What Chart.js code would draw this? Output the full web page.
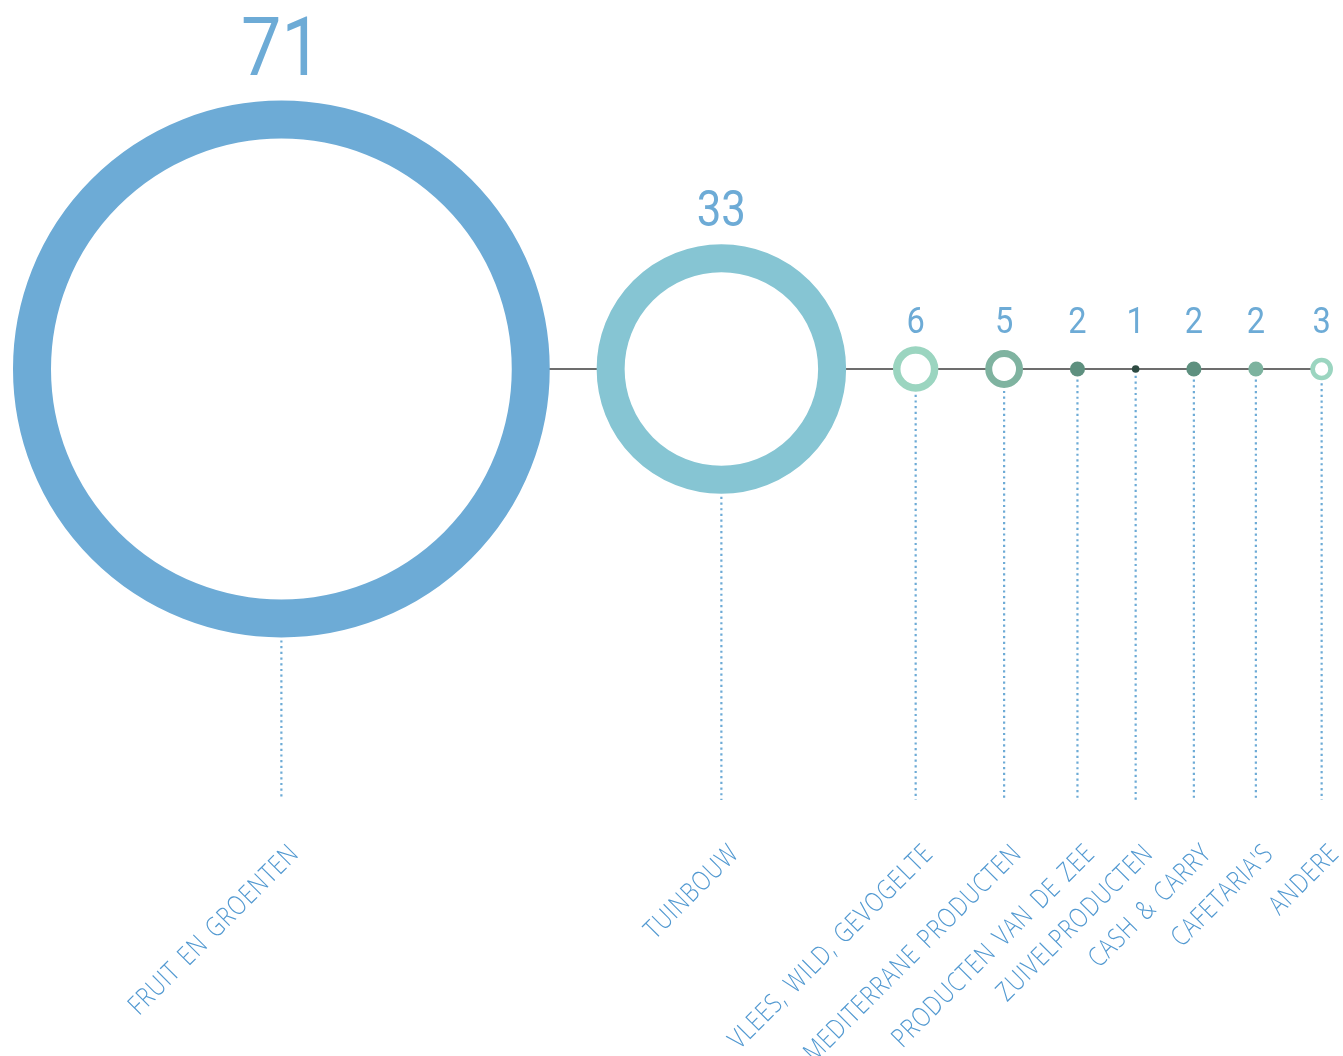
<!DOCTYPE html>
<html>
<head>
<meta charset="utf-8">
<script src="https://cdn.jsdelivr.net/npm/chart.js@4/dist/chart.umd.min.js"></script>
<style>
    html, body { margin: 0; padding: 0; background: #fff; }
    #cadre { width: 1343px; height: 1056px; position: relative; }
</style>
</head>
<body>
<div id="cadre"><canvas id="graphique-secteurs"></canvas></div>
<script>
// Données -- nombre d'entreprises par secteur
const secteurs = ["FRUIT EN GROENTEN", "TUINBOUW", "VLEES, WILD, GEVOGELTE", "MEDITERRANE PRODUCTEN",
    "PRODUCTEN VAN DE ZEE", "ZUIVELPRODUCTEN", "CASH & CARRY", "CAFETARIA'S", "ANDERE"];
const nombres = [71, 33, 6, 5, 2, 1, 2, 2, 3];

// Styles (couleur du cercle + épaisseur de l'anneau en px, 0 = disque plein)
const couleurs = ["#6dabd6", "#86c5d3", "#9bd5c0", "#7fb3a0", "#5e907f", "#2e4b42", "#5e907f", "#7db39f", "#9bd5c0"];
const anneaux = [38, 28, 7.5, 7, 0, 0, 0, 0, 4.7];
const bleuTexte = "#6dabd6";

// 1 unité = 3.78 px, les cercles se suivent avec un écart constant
const PX = 3.78;
const ecart = 12.4;
const centres = [];
for (let i = 0; i < nombres.length; i++) {
    centres.push(i === 0 ? nombres[0] : centres[i - 1] + nombres[i - 1] + ecart + nombres[i]);
}

const LARGEUR = 1343, HAUTEUR = 1056, LIGNE_Y = 369;

function pxParUnite(chart) {
    const s = chart.scales.x;
    return s.getPixelForValue(1) - s.getPixelForValue(0);
}

// Lignes pointillées, chiffres et libellés
const decor = {
    id: "decor",
    afterDatasetsDraw(chart) {
        const ctx = chart.ctx;
        const k = pxParUnite(chart);
        const y0 = chart.scales.y.getPixelForValue(0);
        const bas = chart.scales.y.getPixelForValue(-(800 - LIGNE_Y) / PX);
        ctx.save();
        for (let i = 0; i < nombres.length; i++) {
            const x = chart.scales.x.getPixelForValue(centres[i]);
            const R = nombres[i] * k;
            // pointillés
            ctx.strokeStyle = bleuTexte;
            ctx.lineWidth = 2.2;
            ctx.setLineDash([2.2, 3.5]);
            ctx.beginPath();
            ctx.moveTo(x, y0 + R + 3);
            ctx.lineTo(x, bas);
            ctx.stroke();
            ctx.setLineDash([]);
            // chiffre au-dessus (un peu condensé)
            const taille = Math.max(37, 22 + 0.84 * nombres[i]);
            const ligneBase = Math.min(y0 - R - (12 + 0.05 * R), y0 - 36);
            ctx.save();
            ctx.translate(x, ligneBase);
            ctx.scale(0.88, 1);
            ctx.fillStyle = bleuTexte;
            ctx.font = "400 " + taille + "px Roboto, 'DejaVu Sans', sans-serif";
            ctx.textAlign = "center";
            ctx.textBaseline = "alphabetic";
            ctx.fillText(String(nombres[i]), 0, 0);
            ctx.restore();
            // libellé en biais
            ctx.save();
            ctx.translate(x + 4, 840);
            ctx.rotate(-Math.PI / 4);
            ctx.scale(0.9, 1.12);
            ctx.font = "300 24px 'Open Sans', sans-serif";
            ctx.letterSpacing = "1.1px";
            ctx.wordSpacing = "3px";
            ctx.fillStyle = "#5299d1";
            ctx.textAlign = "right";
            ctx.textBaseline = "top";
            ctx.fillText(secteurs[i], 0, 0);
            ctx.restore();
        }
        ctx.restore();
    }
};

const data = {
    datasets: [{
        // les cercles (dessinés au-dessus de la ligne)
        type: "scatter",
        data: nombres.map((n, i) => ({ x: centres[i], y: 0 })),
        pointRadius: c => {
            const R = nombres[c.dataIndex] * pxParUnite(c.chart);
            const w = anneaux[c.dataIndex];
            return w ? R - w / 2 : R;
        },
        pointBorderWidth: c => anneaux[c.dataIndex],
        pointBorderColor: c => couleurs[c.dataIndex],
        pointBackgroundColor: c => anneaux[c.dataIndex] ? "#ffffff" : couleurs[c.dataIndex],
    }, {
        // la ligne horizontale
        type: "line",
        data: [{ x: centres[0], y: 0 }, { x: centres[centres.length - 1], y: 0 }],
        borderColor: "#3d3d3d",
        borderWidth: 1.3,
        pointRadius: 0,
    }]
};

const config = {
    type: "scatter",
    data: data,
    options: {
        responsive: true,
        maintainAspectRatio: false,
        animation: false,
        events: [],
        layout: { padding: 0 },
        plugins: { legend: { display: false }, tooltip: { enabled: false } },
        scales: {
            x: { type: "linear", display: false, min: -13 / PX, max: (LARGEUR - 13) / PX },
            y: { type: "linear", display: false, min: -(HAUTEUR - LIGNE_Y) / PX, max: LIGNE_Y / PX },
        },
    },
    plugins: [decor],
};

new Chart(document.querySelector("#graphique-secteurs"), config);
</script>
</body>
</html>
